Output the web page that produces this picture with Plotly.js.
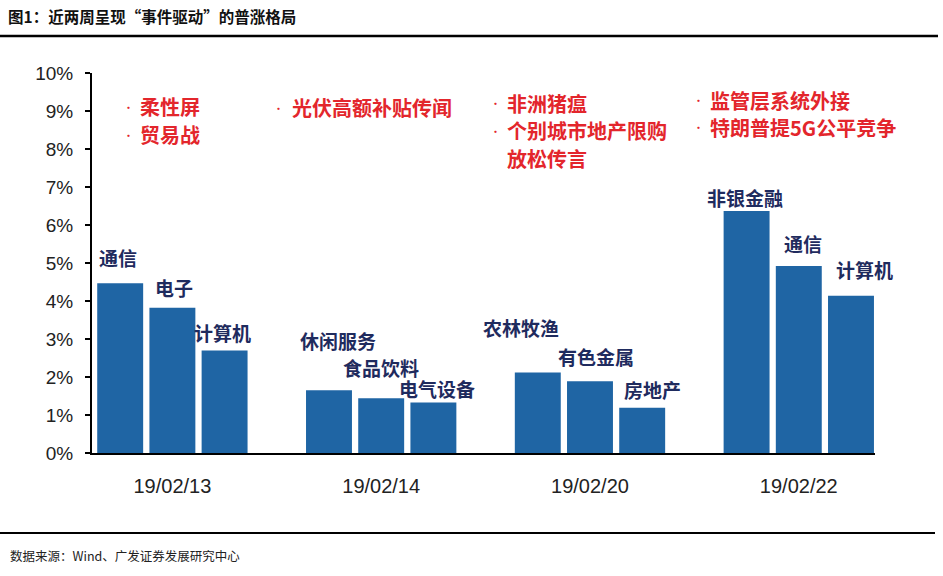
<!DOCTYPE html>
<html>
<head>
<meta charset="utf-8">
<script src="https://cdn.plot.ly/plotly-3.0.1.min.js"></script>
<style>html,body{margin:0;padding:0;background:#fff;}#chart{width:943px;height:576px;}</style>
</head>
<body>
<div id="chart"></div>
<script>
// ---- data ----
const groups = ['19/02/13', '19/02/14', '19/02/20', '19/02/22'];
const industries = [
  ['通信', '电子', '计算机'],
  ['休闲服务', '食品饮料', '电气设备'],
  ['农林牧渔', '有色金属', '房地产'],
  ['非银金融', '通信', '计算机']
];
const returns = [
  [4.47, 3.82, 2.70],
  [1.65, 1.44, 1.33],
  [2.12, 1.89, 1.19],
  [6.37, 4.92, 4.14]
];
const events = [
  ['柔性屏', '贸易战'],
  ['光伏高额补贴传闻'],
  ['非洲猪瘟', '个别城市地产限购\n放松传言'],
  ['监管层系统外接', '特朗普提5G公平竞争']
];
const yTickVals = [0, 1, 2, 3, 4, 5, 6, 7, 8, 9, 10];
const yTickText = yTickVals.map(v => v + '%');
const titleText = '图1：近两周呈现“事件驱动”的普涨格局';
const sourceText = '数据来源：Wind、广发证券发展研究中心';

// ---- layout helpers (style / placement only) ----
const W = 943, H = 576, L = 92, R = 68, T = 73, B = 123;
const PW = W - L - R, PH = H - T - B;
const PX = x => (x - L) / PW;
const PY = y => (H - B - y) / PH;
const SLOT = 4; // 3 bars + 1 gap per group
// label pixel offsets relative to bar top centre [dx, dy]
const labelOffsets = [
  [[-2, 26], [2, 20], [-2, 18]],
  [[9, 50], [0, 31], [4, 14]],
  [[-17, 45], [6, 25], [10, 18]],
  [[-2, 13], [4, 23], [14, 26]]
];
// event note block anchors: [dotX, textX, firstLineY]
const noteAnchors = [[128, 138, 107], [278, 290, 108], [495, 505, 103], [698, 708, 100]];
const noteLineGap = 27.5;

const xs = [], ys = [];
const annotations = [];
groups.forEach((g, gi) => {
  returns[gi].forEach((v, bi) => {
    const x = gi * SLOT + bi;
    xs.push(x); ys.push(v);
    annotations.push({
      xref: 'x', yref: 'y', x: x, y: v, showarrow: false,
      xanchor: 'center', yanchor: 'middle',
      xshift: labelOffsets[gi][bi][0], yshift: labelOffsets[gi][bi][1],
      text: industries[gi][bi],
      font: {family: 'Noto Sans CJK SC', size: 19, color: '#1f2b5e', weight: 'bold'}
    });
  });
});

const redFont = {family: 'Noto Sans CJK SC', size: 20, color: '#e3262c', weight: 'bold'};
events.forEach((list, gi) => {
  const [dx, tx, y0] = noteAnchors[gi];
  let line = 0;
  list.forEach(ev => {
    ev.split('\n').forEach((p, pi) => {
      const y = y0 + line * noteLineGap;
      if (pi === 0) {
        annotations.push({xref: 'paper', yref: 'paper', x: PX(dx), y: PY(y), showarrow: false,
          xanchor: 'center', yanchor: 'middle', text: '•',
          font: {family: 'Noto Sans CJK SC', size: 11, color: '#e3262c'}});
      }
      annotations.push({xref: 'paper', yref: 'paper', x: PX(tx), y: PY(y), showarrow: false,
        xanchor: 'left', yanchor: 'middle', text: p, font: redFont});
      line++;
    });
  });
});

annotations.push({
  xref: 'paper', yref: 'paper', x: PX(8), y: PY(555), showarrow: false,
  xanchor: 'left', yanchor: 'middle', text: sourceText,
  font: {family: 'Noto Sans CJK SC', size: 12.5, color: '#222'}
});

const trace = {
  type: 'bar', x: xs, y: ys, width: 0.88,
  marker: {color: '#1f65a4', line: {width: 0}},
  hoverinfo: 'skip'
};

const layout = {
  width: W, height: H,
  margin: {l: L, r: R, t: T, b: B},
  paper_bgcolor: '#fff', plot_bgcolor: '#fff',
  showlegend: false,
  title: {
    text: titleText, xref: 'container', yref: 'container',
    x: 8 / W, xanchor: 'left', y: 1 - 18 / H, yanchor: 'middle',
    font: {family: 'Noto Sans CJK SC', size: 15.5, color: '#111', weight: 'bold'}
  },
  xaxis: {
    range: [-0.54, 14.46],
    tickvals: groups.map((g, gi) => gi * SLOT + 1), ticktext: groups,
    ticks: '', showline: true, linecolor: '#000', linewidth: 2,
    showgrid: false, zeroline: false, ticklabelstandoff: 14,
    tickfont: {family: 'Liberation Sans, Arial', size: 20, color: '#222'}
  },
  yaxis: {
    range: [0, 10], tickvals: yTickVals, ticktext: yTickText,
    ticks: 'outside', ticklen: 5, tickwidth: 1.5, tickcolor: '#000',
    showline: true, linecolor: '#000', linewidth: 2,
    showgrid: false, zeroline: false, ticklabelstandoff: 8,
    tickfont: {family: 'Liberation Sans, Arial', size: 19, color: '#222'}
  },
  annotations: annotations,
  shapes: [
    {type: 'line', xref: 'paper', yref: 'paper', x0: PX(0), x1: PX(938), y0: PY(36), y1: PY(36), line: {color: '#000', width: 2.5}},
    {type: 'line', xref: 'paper', yref: 'paper', x0: PX(0), x1: PX(935), y0: PY(533), y1: PY(533), line: {color: '#000', width: 2}}
  ]
};

Plotly.newPlot('chart', [trace], layout, {staticPlot: true, displayModeBar: false});
</script>
</body>
</html>
